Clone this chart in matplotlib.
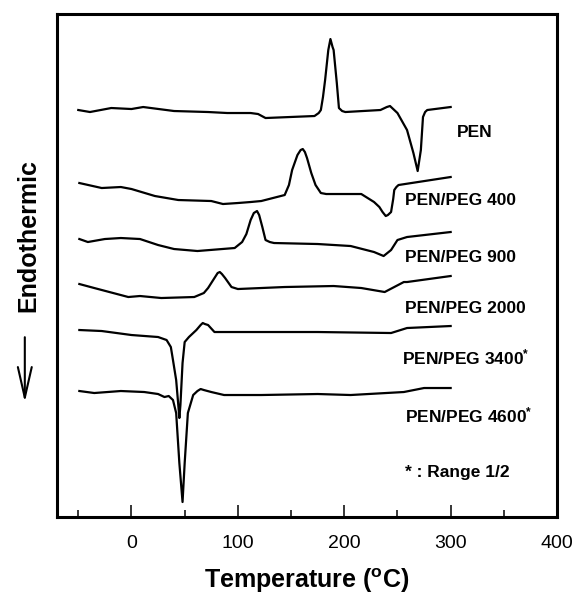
import matplotlib
matplotlib.use("Agg")
import matplotlib.pyplot as plt

plt.rcParams['font.family'] = ['Liberation Sans', 'DejaVu Sans']
plt.rcParams['mathtext.fontset'] = 'custom'
plt.rcParams['mathtext.rm'] = 'Liberation Sans'
plt.rcParams['mathtext.bf'] = 'Liberation Sans:bold'
plt.rcParams['mathtext.default'] = 'regular'

# DSC traces (temperature in degC, signal in arbitrary units, offset per curve)
t_pen = [-50, -39, -19, 0, 11, 40, 72, 90, 112, 119, 126, 172, 176, 178, 180, 182, 185, 187, 189,
         190, 193, 195, 198, 201, 234, 240, 243, 246, 250, 259, 265, 269, 272, 274, 276, 278, 300]
y_pen = [407, 405, 409, 408, 410, 406, 405, 404, 404, 403, 399, 401, 404, 407, 420, 437, 467, 478, 470,
         467, 434, 409, 406, 405, 407, 410, 411, 408, 404, 387, 364, 346, 367, 400, 405, 407, 410]

t_400 = [-49, -28, -10, 0, 22, 44, 75, 86, 100, 112, 122, 144, 148, 151, 156, 159, 161, 163, 165,
         169, 173, 178, 183, 216, 228, 233, 236, 239, 241, 244, 246, 247, 249, 251, 300]
y_400 = [334, 329, 330, 328, 321, 317, 316, 313, 314, 315, 316, 322, 332, 347, 362, 367, 368, 365, 359,
         344, 332, 324, 323, 323, 315, 310, 305, 301, 302, 305, 318, 327, 330, 332, 340]

t_900 = [-49, -41, -25, -10, 8, 25, 40, 62, 97, 104, 108, 112, 115, 118, 120, 123, 126, 130, 134,
         175, 206, 228, 237, 244, 250, 259, 300]
y_900 = [278, 275, 278, 279, 278, 272, 268, 266, 269, 275, 283, 297, 304, 306, 302, 290, 277, 275, 274,
         273, 271, 265, 261, 267, 277, 280, 285]

t_2000 = [-49, -35, -3, 8, 28, 59, 68, 72, 75, 78, 81, 83, 85, 88, 94, 100, 122, 144, 190, 216, 238,
          247, 256, 259, 300]
y_2000 = [233, 229, 220, 221, 219, 220, 224, 229, 234, 239, 244, 245, 243, 239, 230, 228, 229, 230, 231,
          229, 225, 230, 235, 235, 241]

t_3400 = [-49, -28, 0, 25, 33, 37, 39, 42, 44, 45, 46, 48, 50, 54, 61, 65, 67, 69, 72, 78, 122, 175,
          244, 259, 300]
y_3400 = [187, 186, 182, 180, 177, 170, 157, 137, 112, 99, 112, 154, 175, 180, 187, 192, 194, 193, 192,
          185, 185, 185, 184, 189, 191]

t_4600 = [-49, -35, -10, 12, 25, 31, 35, 39, 42, 45, 48, 50, 53, 58, 62, 65, 68, 75, 87, 122, 175, 206,
          256, 275, 300]
y_4600 = [126, 124, 126, 125, 123, 120, 121, 117, 104, 54, 15, 54, 104, 122, 126, 128, 127, 125, 122,
          122, 123, 122, 125, 129, 129]

labels = ["PEN", "PEN/PEG 400", "PEN/PEG 900", "PEN/PEG 2000",
          "PEN/PEG 3400$^{*}$", "PEN/PEG 4600$^{*}$"]
label_x = [306, 257, 257, 257, 254, 257]
label_y = [385, 317, 260, 209, 160, 102]

xticks_major = [0, 100, 200, 300, 400]
xticks_minor = [-50, 50, 150, 250, 350]

fig = plt.figure(figsize=(5.77, 5.94), dpi=100)
ax = fig.add_axes([0.0988, 0.1296, 0.8666, 0.8468])

curves = [(t_pen, y_pen), (t_400, y_400), (t_900, y_900),
          (t_2000, y_2000), (t_3400, y_3400), (t_4600, y_4600)]
for t, y in curves:
    ax.plot(t, y, color='black', lw=1.6, solid_joinstyle='round')

for lab, lx, ly in zip(labels, label_x, label_y):
    ax.text(lx, ly, lab, fontsize=12.5, fontweight='bold', va='center', ha='left')
ax.text(257, 45, "* : Range 1/2", fontsize=12.5, fontweight='bold', va='center', ha='left')

ax.set_xlim(-70, 400)
ax.set_ylim(0, 503)
ax.set_yticks([])
ax.set_xticks(xticks_major)
ax.set_xticks(xticks_minor, minor=True)
ax.tick_params(axis='x', which='major', direction='in', length=9, width=1.1, labelsize=14, pad=13)
ax.tick_params(axis='x', which='minor', direction='in', length=5, width=1.1)
for s in ax.spines.values():
    s.set_linewidth(2.2)

ax.set_xlabel("Temperature ($^{o}$C)", fontsize=18, fontweight='bold', labelpad=10)
fig.text(0.0485, 0.604, "Endothermic", rotation=90, fontsize=18, fontweight='bold',
         ha='center', va='center')
ax.annotate("", xy=(0.043, 0.318), xytext=(0.043, 0.437), xycoords='figure fraction',
            textcoords='figure fraction',
            arrowprops=dict(arrowstyle='->,head_length=2.2,head_width=0.5', lw=1.5, color='black'))

fig.savefig("out.png", dpi=100)
